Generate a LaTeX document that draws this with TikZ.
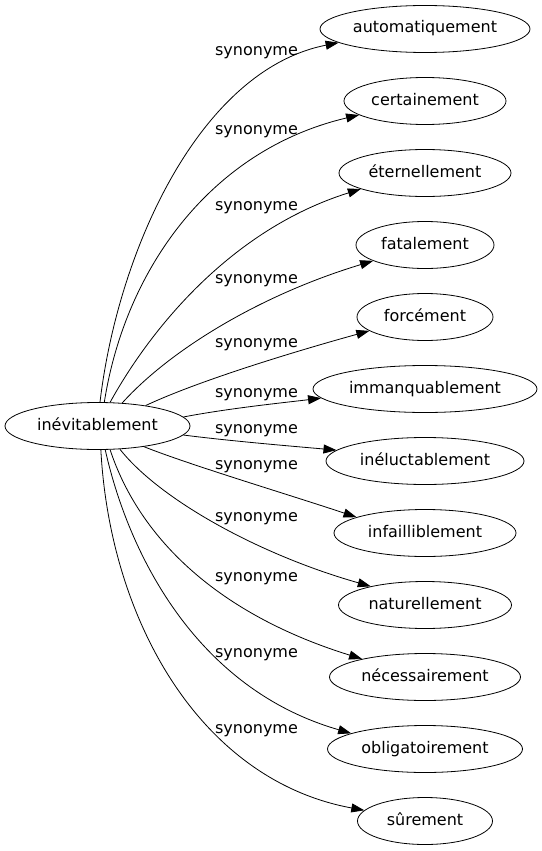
\documentclass[tikz,border=0pt]{standalone}
\usepackage{fontspec}
\setmainfont{DejaVu Sans}
\usetikzlibrary{shapes.geometric,arrows.meta}
\begin{document}
\begin{tikzpicture}[x=1pt,y=-1pt,
  word/.style={draw,ellipse,inner sep=0pt,minimum height=47pt,text height=11.5pt,text depth=3.5pt,font=\fontsize{16}{18}\selectfont,line width=0.8pt},
  lbl/.style={font=\fontsize{16}{18}\selectfont,inner sep=0pt,text height=11.5pt,text depth=3.5pt},
  syn/.style={-{Triangle[length=13pt,width=9pt]},line width=0.8pt}]
\useasboundingbox (0,0) rectangle (541,851);
\node[word,minimum width=185pt] (c) at (97.5,426) {inévitablement};
\node[word,minimum width=210pt] (n1) at (425,29) {automatiquement};
\node[word,minimum width=162pt] (n2) at (425,101) {certainement};
\node[word,minimum width=172pt] (n3) at (425,173) {éternellement};
\node[word,minimum width=138pt] (n4) at (425,245) {fatalement};
\node[word,minimum width=136pt] (n5) at (425,317) {forcément};
\node[word,minimum width=224pt] (n6) at (425,389) {immanquablement};
\node[word,minimum width=198pt] (n7) at (425,461) {inéluctablement};
\node[word,minimum width=182pt] (n8) at (425,533) {infailliblement};
\node[word,minimum width=173pt] (n9) at (425,605) {naturellement};
\node[word,minimum width=191pt] (n10) at (425,677) {nécessairement};
\node[word,minimum width=195pt] (n11) at (425,749) {obligatoirement};
\node[word,minimum width=135pt] (n12) at (425,821) {sûrement};
\node[lbl] (l1) at (256.5,52) {synonyme};
\node[lbl] (l2) at (256.5,130) {synonyme};
\node[lbl] (l3) at (256.5,206) {synonyme};
\node[lbl] (l4) at (256.5,279) {synonyme};
\node[lbl] (l5) at (256.5,343) {synonyme};
\node[lbl] (l6) at (256.5,393) {synonyme};
\node[lbl] (l7) at (256.5,429) {synonyme};
\node[lbl] (l8) at (256.5,465) {synonyme};
\node[lbl] (l9) at (256.5,517) {synonyme};
\node[lbl] (l10) at (256.5,577) {synonyme};
\node[lbl] (l11) at (256.5,653) {synonyme};
\node[lbl] (l12) at (256.5,729) {synonyme};
\draw[syn] (c.84) .. controls (118,250) and (200,70) .. (n1.189.8);
\draw[syn] (c.74.8) .. controls (125,270) and (210,150) .. (n2.192.4);
\draw[syn] (c.62.3) .. controls (150,330) and (230,230) .. (n3.194.7);
\draw[syn] (c.43.4) .. controls (170,350) and (260,295) .. (n4.197.5);
\draw[syn] (c.23.4) .. controls (200,380) and (300,350) .. (n5.194.7);
\draw[syn] (c.6.1) .. controls (230,408) and (290,402) .. (n6.185.8);
\draw[syn] (c.-6.1) .. controls (230,441) and (290,446) .. (n7.173.7);
\draw[syn] (c.-24.7) .. controls (190,465) and (290,495) .. (n8.167.1);
\draw[syn] (c.-46) .. controls (160,500) and (260,555) .. (n9.161.9);
\draw[syn] (c.-62.3) .. controls (140,540) and (220,615) .. (n10.164.8);
\draw[syn] (c.-72) .. controls (130,560) and (200,690) .. (n11.168.4);
\draw[syn] (c.-82) .. controls (110,620) and (200,780) .. (n12.170.1);
\end{tikzpicture}
\end{document}
